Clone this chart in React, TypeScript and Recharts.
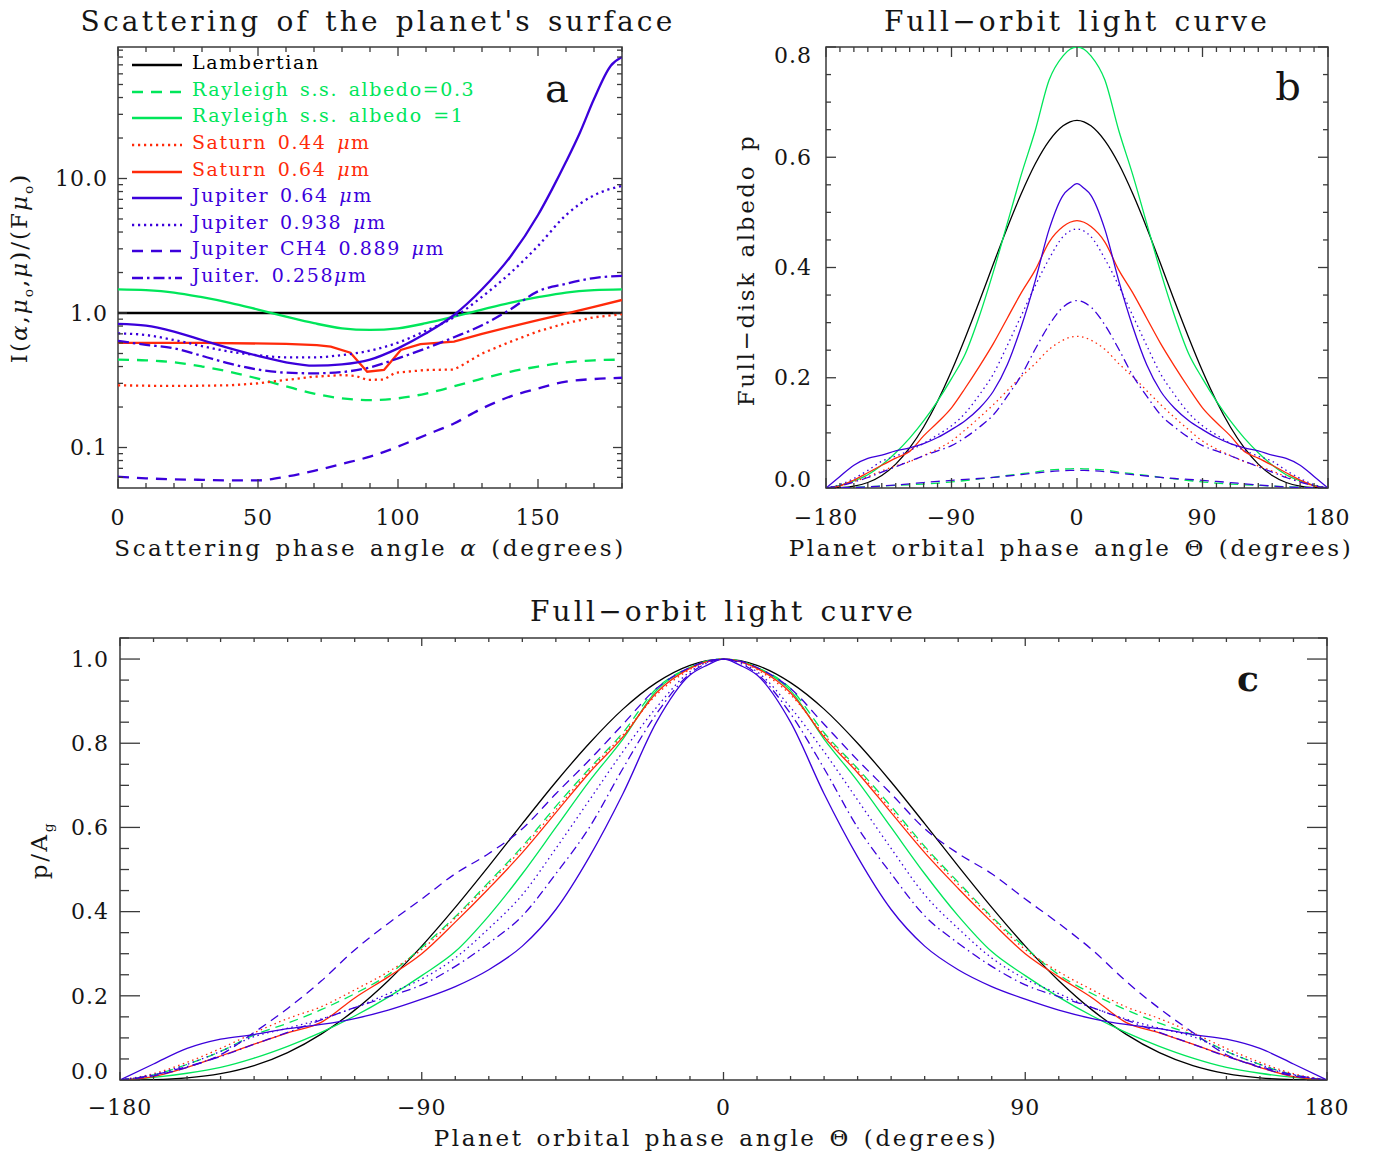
import React from 'react'
import { LineChart, Line, XAxis, YAxis, ReferenceArea } from 'recharts'

const FONT = '"DejaVu Serif", "Liberation Serif", serif'
const BLACK = '#000000'
const GREEN = '#00e65a'
const RED = '#ff2a0a'
const BLUE = '#3b00db'
const FRAME = '#3a3a3a'
const INK = '#151515'

// ---- panel a: scattering of the planet's surface (log scale) ----
const ALPHA = [0, 10, 20, 30, 40, 50, 60, 70, 80, 90, 100, 110, 120, 130, 140, 150, 160, 170, 180]
const A_LAMBERT = [1, 1, 1, 1, 1, 1, 1, 1, 1, 1, 1, 1, 1, 1, 1, 1, 1, 1, 1]
const A_RAY1 = [1.5, 1.48, 1.42, 1.31, 1.19, 1.06, 0.94, 0.84, 0.77, 0.75, 0.77, 0.84, 0.94, 1.06, 1.19, 1.31, 1.42, 1.48, 1.5]
const A_RAY03 = [0.45, 0.445, 0.43, 0.4, 0.365, 0.325, 0.285, 0.252, 0.232, 0.225, 0.232, 0.252, 0.285, 0.325, 0.365, 0.4, 0.43, 0.445, 0.45]
const A_CH4 = [0.0607, 0.059, 0.058, 0.0575, 0.057, 0.057, 0.0607, 0.067, 0.0755, 0.0856, 0.1015, 0.124, 0.151, 0.195, 0.239, 0.275, 0.309, 0.323, 0.33]
const A_J258 = [0.62, 0.58, 0.546, 0.48, 0.42, 0.38, 0.36, 0.356, 0.364, 0.394, 0.46, 0.546, 0.66, 0.81, 1.06, 1.45, 1.65, 1.82, 1.89]
const A_J0938 = [0.706, 0.686, 0.63, 0.568, 0.516, 0.485, 0.468, 0.468, 0.487, 0.525, 0.602, 0.739, 0.93, 1.32, 1.97, 3.15, 5.35, 7.5, 8.8]

const J064_ALPHA = [0, 10, 20, 30, 40, 50, 60, 70, 80, 90, 100, 110, 120, 130, 140, 150, 155, 160, 165, 170, 176, 180]
const A_J064 = [0.83, 0.805, 0.727, 0.63, 0.546, 0.48, 0.43, 0.406, 0.415, 0.45, 0.546, 0.706, 0.966, 1.5, 2.6, 5.35, 8.3, 13.3, 22, 39, 69, 80]

const SAT044_ALPHA = [0, 10, 20, 30, 40, 50, 60, 70, 80, 85, 89, 95, 99, 110, 120, 123, 130, 140, 150, 160, 170, 180]
const A_SAT044 = [0.29, 0.288, 0.287, 0.288, 0.29, 0.3, 0.318, 0.336, 0.346, 0.34, 0.318, 0.32, 0.36, 0.377, 0.38, 0.41, 0.5, 0.61, 0.73, 0.84, 0.93, 0.98]

const SAT064_ALPHA = [0, 30, 60, 71, 76, 83, 89, 95, 101, 108, 120, 130, 140, 150, 160, 170, 180]
const A_SAT064 = [0.6, 0.6, 0.59, 0.578, 0.562, 0.507, 0.366, 0.377, 0.531, 0.588, 0.612, 0.7, 0.79, 0.885, 0.99, 1.11, 1.25]

// ---- panels b and c: normalised light curves (p / A_g), symmetric in theta ----
const THETA = [0, 5, 10, 20, 30, 40, 50, 60, 70, 80, 90, 100, 110, 120, 130, 140, 150, 160, 170, 180]
const N_LAMBERT = [1, 0.996, 0.985, 0.944, 0.881, 0.8, 0.708, 0.609, 0.508, 0.41, 0.318, 0.236, 0.166, 0.109, 0.065, 0.034, 0.015, 0.005, 0.001, 0]
const N_RAY1 = [1, 0.995, 0.98, 0.925, 0.81, 0.71, 0.6, 0.49, 0.39, 0.305, 0.248, 0.197, 0.152, 0.113, 0.08, 0.052, 0.03, 0.016, 0.006, 0]
const N_RAY03 = [1, 0.995, 0.98, 0.93, 0.825, 0.74, 0.65, 0.555, 0.47, 0.388, 0.315, 0.25, 0.205, 0.167, 0.135, 0.107, 0.068, 0.037, 0.012, 0]
const N_SAT044 = [1, 0.994, 0.975, 0.915, 0.82, 0.735, 0.642, 0.55, 0.465, 0.385, 0.31, 0.257, 0.214, 0.174, 0.146, 0.112, 0.075, 0.042, 0.015, 0]
const N_SAT064 = [1, 0.994, 0.978, 0.92, 0.815, 0.73, 0.635, 0.54, 0.455, 0.375, 0.3, 0.245, 0.195, 0.137, 0.112, 0.085, 0.057, 0.03, 0.008, 0]
const N_J064 = [1, 0.985, 0.962, 0.85, 0.68, 0.53, 0.405, 0.318, 0.262, 0.222, 0.192, 0.166, 0.146, 0.132, 0.122, 0.108, 0.097, 0.075, 0.038, 0]
const N_J0938 = [1, 0.992, 0.97, 0.885, 0.78, 0.665, 0.55, 0.44, 0.36, 0.29, 0.24, 0.205, 0.172, 0.145, 0.123, 0.103, 0.068, 0.037, 0.013, 0]
const N_CH4 = [1, 0.995, 0.98, 0.93, 0.845, 0.76, 0.68, 0.597, 0.538, 0.49, 0.43, 0.372, 0.309, 0.235, 0.17, 0.113, 0.06, 0.03, 0.01, 0]
const N_J258 = [1, 0.99, 0.965, 0.87, 0.74, 0.6, 0.49, 0.39, 0.325, 0.27, 0.226, 0.198, 0.172, 0.143, 0.113, 0.085, 0.056, 0.032, 0.012, 0]

// geometric albedo A_g (peak of panel b)
const PEAK_LAMBERT = 0.667
const PEAK_RAY1 = 0.8
const PEAK_RAY03 = 0.035
const PEAK_SAT044 = 0.275
const PEAK_SAT064 = 0.485
const PEAK_J064 = 0.552
const PEAK_J0938 = 0.47
const PEAK_CH4 = 0.032
const PEAK_J258 = 0.34

// ticks
const A_XTICKS = [0, 10, 20, 30, 40, 50, 60, 70, 80, 90, 100, 110, 120, 130, 140, 150, 160, 170, 180]
const A_XMAJOR = [0, 50, 100, 150]
const A_YTICKS = [0.06, 0.07, 0.08, 0.09, 0.1, 0.2, 0.3, 0.4, 0.5, 0.6, 0.7, 0.8, 0.9, 1, 2, 3, 4, 5, 6, 7, 8, 9, 10, 20, 30, 40, 50, 60, 70, 80, 90]
const A_YMAJOR = [0.1, 1, 10]
const TH_XTICKS = [-180, -170, -160, -150, -140, -130, -120, -110, -100, -90, -80, -70, -60, -50, -40, -30, -20, -10, 0, 10, 20, 30, 40, 50, 60, 70, 80, 90, 100, 110, 120, 130, 140, 150, 160, 170, 180]
const TH_XMAJOR = [-180, -90, 0, 90, 180]
const B_YTICKS = [0, 0.05, 0.1, 0.15, 0.2, 0.25, 0.3, 0.35, 0.4, 0.45, 0.5, 0.55, 0.6, 0.65, 0.7, 0.75, 0.8]
const C_YTICKS = [0, 0.05, 0.1, 0.15, 0.2, 0.25, 0.3, 0.35, 0.4, 0.45, 0.5, 0.55, 0.6, 0.65, 0.7, 0.75, 0.8, 0.85, 0.9, 0.95, 1, 1.05]
const BC_YMAJOR = [0, 0.2, 0.4, 0.6, 0.8, 1]

const THICK = { dash: '11 8', dot: '2.2 3.8', dashdot: '11 4 2.5 4' }
const THIN = { dash: '9 6', dot: '1.5 3.5', dashdot: '9 4 1.5 4' }

const pts = (xs: number[], ys: number[]) => xs.map((x, i) => ({ x, v: ys[i] }))

const SERIES_BC = [
  { key: 'lam', norm: N_LAMBERT, peak: PEAK_LAMBERT, color: BLACK, dash: undefined },
  { key: 'ray1', norm: N_RAY1, peak: PEAK_RAY1, color: GREEN, dash: undefined },
  { key: 'ray03', norm: N_RAY03, peak: PEAK_RAY03, color: GREEN, dash: THIN.dash },
  { key: 'sat044', norm: N_SAT044, peak: PEAK_SAT044, color: RED, dash: THIN.dot },
  { key: 'sat064', norm: N_SAT064, peak: PEAK_SAT064, color: RED, dash: undefined },
  { key: 'j064', norm: N_J064, peak: PEAK_J064, color: BLUE, dash: undefined },
  { key: 'j0938', norm: N_J0938, peak: PEAK_J0938, color: BLUE, dash: THIN.dot },
  { key: 'ch4', norm: N_CH4, peak: PEAK_CH4, color: BLUE, dash: THIN.dash },
  { key: 'j258', norm: N_J258, peak: PEAK_J258, color: BLUE, dash: THIN.dashdot },
]

const THETA_ALL = [...THETA.slice(1).reverse().map((t) => -t), ...THETA]
const rowsC = THETA_ALL.map((t) => {
  const i = THETA.indexOf(Math.abs(t))
  const r: any = { x: t }
  SERIES_BC.forEach((s) => (r[s.key] = s.norm[i]))
  return r
})
const rowsB = THETA_ALL.map((t) => {
  const i = THETA.indexOf(Math.abs(t))
  const r: any = { x: t }
  SERIES_BC.forEach((s) => (r[s.key] = s.norm[i] * s.peak))
  return r
})

const isIn = (arr: number[], v: number) => arr.some((m) => Math.abs(m - v) < 1e-9)

// axis sizes must be > 0 or recharts skips drawing the axis
const AX = 1

function XTick(props: any) {
  const { x, payload, majors, span, majLen, minLen, gap, base } = props
  const y = base
  const v = payload.value
  const major = isIn(majors, v)
  const len = major ? majLen : minLen
  const lab = v < 0 ? `\u2212${Math.abs(v)}` : `${v}`
  return (
    <g>
      <line x1={x} x2={x} y1={y} y2={y - len} stroke={FRAME} strokeWidth={1.3} />
      <line x1={x} x2={x} y1={y - span} y2={y - span + len} stroke={FRAME} strokeWidth={1.3} />
      {major && (
        <text x={x} y={y + gap} dy="0.35em" textAnchor="middle" fontFamily={FONT} fontSize={22} letterSpacing={1} fill={INK}>
          {lab}
        </text>
      )}
    </g>
  )
}

function YTick(props: any) {
  const { y, payload, majors, span, majLen, minLen, gap, lo, hi, base } = props
  const x = base
  const v = payload.value
  const major = isIn(majors, v)
  const len = major ? majLen : minLen
  let dy = 0
  if (lo !== undefined && Math.abs(v - lo) < 1e-9) dy = -9
  if (hi !== undefined && Math.abs(v - hi) < 1e-9) dy = 8
  return (
    <g>
      <line x1={x} x2={x + len} y1={y} y2={y} stroke={FRAME} strokeWidth={1.3} />
      <line x1={x + span} x2={x + span - len} y1={y} y2={y} stroke={FRAME} strokeWidth={1.3} />
      {major && (
        <text x={x - gap} y={y + dy} dy="0.35em" textAnchor="end" fontFamily={FONT} fontSize={22} letterSpacing={1} fill={INK}>
          {v.toFixed(1)}
        </text>
      )}
    </g>
  )
}

function Txt({ x, y, size, rotate, ls = 2.5, weight = 'normal', color = INK, children }: any) {
  return (
    <div
      style={{
        position: 'absolute',
        left: x,
        top: y,
        transform: `translate(-50%, -50%)${rotate ? ' rotate(-90deg)' : ''}`,
        fontFamily: FONT,
        fontSize: size,
        letterSpacing: ls,
        wordSpacing: 3,
        whiteSpace: 'nowrap',
        lineHeight: 1,
        color,
        fontWeight: weight,
      }}
    >
      {children}
    </div>
  )
}

const mu = <i>μ</i>
const LEGEND = [
  { label: 'Lambertian', color: BLACK, dash: undefined },
  { label: 'Rayleigh s.s. albedo=0.3', color: GREEN, dash: THICK.dash },
  { label: 'Rayleigh s.s. albedo =1', color: GREEN, dash: undefined },
  { label: <>Saturn 0.44 {mu}m</>, color: RED, dash: THICK.dot },
  { label: <>Saturn 0.64 {mu}m</>, color: RED, dash: undefined },
  { label: <>Jupiter 0.64 {mu}m</>, color: BLUE, dash: undefined },
  { label: <>Jupiter 0.938 {mu}m</>, color: BLUE, dash: THICK.dot },
  { label: <>Jupiter CH4 0.889 {mu}m</>, color: BLUE, dash: THICK.dash },
  { label: <>Juiter. 0.258{mu}m</>, color: BLUE, dash: THICK.dashdot },
]

function PanelA() {
  const W = 700
  const H = 580
  const plot = { left: 118, top: 47, right: 622, bottom: 488 }
  const m = { top: plot.top, right: W - plot.right, bottom: H - plot.bottom - AX, left: plot.left - AX }
  const pw = plot.right - plot.left
  const ph = plot.bottom - plot.top
  const lw = 2.3
  return (
    <div style={{ position: 'absolute', left: 0, top: 0 }}>
      <LineChart width={W} height={H} margin={m}>
        <XAxis dataKey="x" type="number" domain={[0, 180]} ticks={A_XTICKS} interval={0} allowDataOverflow
          height={AX} tickSize={0} tickMargin={0} axisLine={false} tickLine={false}
          tick={<XTick majors={A_XMAJOR} span={ph} majLen={9} minLen={5} gap={29} base={plot.bottom} />} />
        <YAxis type="number" scale="log" domain={[0.05, 95]} ticks={A_YTICKS} interval={0} allowDataOverflow
          width={AX} tickSize={0} tickMargin={0} axisLine={false} tickLine={false}
          tick={<YTick majors={A_YMAJOR} span={pw} majLen={9} minLen={5} gap={10} base={plot.left} />} />
        <ReferenceArea x1={0} x2={180} y1={0.05} y2={95} fill="none" stroke={FRAME} strokeWidth={1.5} />
        <Line data={pts(ALPHA, A_LAMBERT)} dataKey="v" type="linear" stroke={BLACK} strokeWidth={2.6} dot={false} isAnimationActive={false} />
        <Line data={pts(ALPHA, A_RAY1)} dataKey="v" type="monotone" stroke={GREEN} strokeWidth={lw} dot={false} isAnimationActive={false} />
        <Line data={pts(ALPHA, A_RAY03)} dataKey="v" type="monotone" stroke={GREEN} strokeWidth={lw} strokeDasharray={THICK.dash} dot={false} isAnimationActive={false} />
        <Line data={pts(SAT044_ALPHA, A_SAT044)} dataKey="v" type="linear" stroke={RED} strokeWidth={lw} strokeDasharray={THICK.dot} dot={false} isAnimationActive={false} />
        <Line data={pts(SAT064_ALPHA, A_SAT064)} dataKey="v" type="linear" stroke={RED} strokeWidth={lw} dot={false} isAnimationActive={false} />
        <Line data={pts(J064_ALPHA, A_J064)} dataKey="v" type="monotone" stroke={BLUE} strokeWidth={lw} dot={false} isAnimationActive={false} />
        <Line data={pts(ALPHA, A_J0938)} dataKey="v" type="monotone" stroke={BLUE} strokeWidth={lw} strokeDasharray={THICK.dot} dot={false} isAnimationActive={false} />
        <Line data={pts(ALPHA, A_CH4)} dataKey="v" type="monotone" stroke={BLUE} strokeWidth={lw} strokeDasharray={THICK.dash} dot={false} isAnimationActive={false} />
        <Line data={pts(ALPHA, A_J258)} dataKey="v" type="monotone" stroke={BLUE} strokeWidth={lw} strokeDasharray={THICK.dashdot} dot={false} isAnimationActive={false} />
      </LineChart>
    </div>
  )
}

function PanelBC({ left, top, W, H, plot, rows, ymax, yticks, ylo, yhi, xmaj, xmin, ymaj, ymin, ygap, xgap }: any) {
  const m = { top: plot.top, right: W - plot.right, bottom: H - plot.bottom - AX, left: plot.left - AX }
  const pw = plot.right - plot.left
  const ph = plot.bottom - plot.top
  return (
    <div style={{ position: 'absolute', left, top }}>
      <LineChart width={W} height={H} margin={m} data={rows}>
        <XAxis dataKey="x" type="number" domain={[-180, 180]} ticks={TH_XTICKS} interval={0} allowDataOverflow
          height={AX} tickSize={0} tickMargin={0} axisLine={false} tickLine={false}
          tick={<XTick majors={TH_XMAJOR} span={ph} majLen={xmaj} minLen={xmin} gap={xgap} base={plot.bottom} />} />
        <YAxis type="number" domain={[0, ymax]} ticks={yticks} interval={0} allowDataOverflow
          width={AX} tickSize={0} tickMargin={0} axisLine={false} tickLine={false}
          tick={<YTick majors={BC_YMAJOR} span={pw} majLen={ymaj} minLen={ymin} gap={ygap} lo={ylo} hi={yhi} base={plot.left} />} />
        <ReferenceArea x1={-180} x2={180} y1={0} y2={ymax} fill="none" stroke={FRAME} strokeWidth={1.5} />
        {SERIES_BC.map((s) => (
          <Line key={s.key} dataKey={s.key} type="monotone" stroke={s.color} strokeWidth={1.3}
            strokeDasharray={s.dash} dot={false} isAnimationActive={false} />
        ))}
      </LineChart>
    </div>
  )
}

export default function App() {
  return (
    <div style={{ position: 'absolute', left: 0, top: 0, width: 1385, height: 1152, background: '#fff', overflow: 'hidden' }}>
      <PanelA />
      <PanelBC left={700} top={0} W={685} H={580} plot={{ left: 126, top: 47, right: 628, bottom: 488 }}
        rows={rowsB} ymax={0.8} yticks={B_YTICKS} ylo={0} yhi={0.8} xmaj={10} xmin={5} ymaj={10} ymin={5} ygap={14} xgap={29} />
      <PanelBC left={0} top={580} W={1385} H={572} plot={{ left: 120, top: 58, right: 1327, bottom: 500 }}
        rows={rowsC} ymax={1.05} yticks={C_YTICKS} ylo={0} yhi={undefined} xmaj={8} xmin={4} ymaj={20} ymin={9} ygap={11} xgap={27} />

      {/* legend of panel a */}
      <div style={{ position: 'absolute', left: 132, top: 49 }}>
        {LEGEND.map((e, i) => (
          <div key={i} style={{ display: 'flex', alignItems: 'center', height: 26.6 }}>
            <svg width={50} height={8} style={{ transform: 'translateY(3px)' }}>
              <line x1={0} x2={50} y1={4} y2={4} stroke={e.color} strokeWidth={2.6} strokeDasharray={e.dash} />
            </svg>
            <span style={{ marginLeft: 10, color: e.color, fontFamily: FONT, fontSize: 19, letterSpacing: 1.6, wordSpacing: 3, whiteSpace: 'nowrap' }}>
              {e.label}
            </span>
          </div>
        ))}
      </div>

      <Txt x={378} y={22} size={28} ls={3.2}>Scattering of the planet's surface</Txt>
      <Txt x={1077} y={22} size={28} ls={3.2}>Full−orbit light curve</Txt>
      <Txt x={723} y={612} size={28} ls={3.2}>Full−orbit light curve</Txt>

      <Txt x={370} y={548} size={23} ls={2.6}>Scattering phase angle <i>α</i> (degrees)</Txt>
      <Txt x={1071} y={548} size={23} ls={2.6}>Planet orbital phase angle Θ (degrees)</Txt>
      <Txt x={716} y={1138} size={23} ls={2.6}>Planet orbital phase angle Θ (degrees)</Txt>

      <Txt x={22} y={268} size={23} ls={2} rotate>
        I(<i>α</i>,<i>μ</i><sub style={{ fontSize: '0.6em' }}>o</sub>,<i>μ</i>)/(F<i>μ</i><sub style={{ fontSize: '0.6em' }}>o</sub>)
      </Txt>
      <Txt x={746} y={270} size={23} ls={2.6} rotate>Full−disk albedo p</Txt>
      <Txt x={42} y={850} size={23} ls={2.6} rotate>
        p/A<sub style={{ fontSize: '0.6em' }}>g</sub>
      </Txt>

      <Txt x={557} y={88} size={40} ls={0}>a</Txt>
      <Txt x={1288} y={86} size={40} ls={0}>b</Txt>
      <Txt x={1248} y={678} size={36} ls={0} weight="bold">c</Txt>
    </div>
  )
}
